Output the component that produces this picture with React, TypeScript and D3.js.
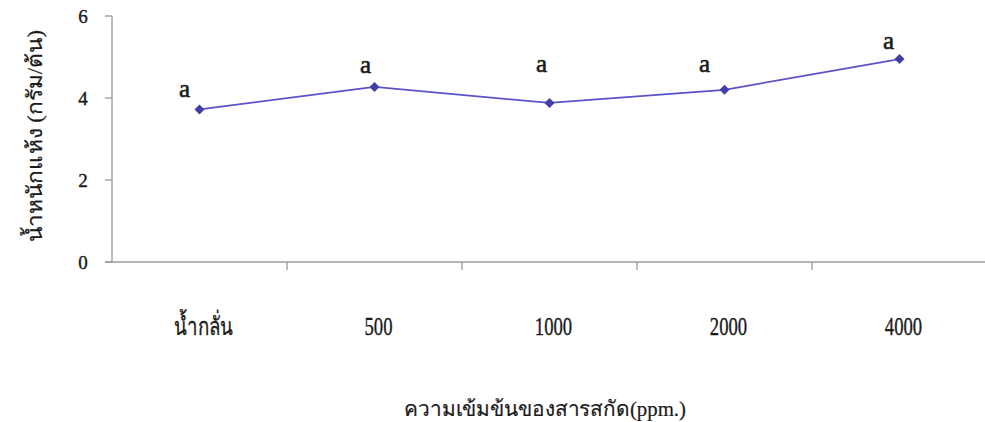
import React from "react";
import * as d3 from "d3";

const categories = ["น้ำกลั่น", "500", "1000", "2000", "4000"];
const values = [3.72, 4.27, 3.88, 4.2, 4.95];
const letters = ["a", "a", "a", "a", "a"];
const letterY = [4.02, 4.61, 4.63, 4.63, 5.19];
const letterDx = [-15, -9, -8, -20, -11];
const yTicks = [0, 2, 4, 6];

const W = 985;
const H = 422;
const serif = "'Liberation Serif', 'Times New Roman', serif";

export default function App() {
  const x = d3.scaleBand<string>().domain(categories).range([112, 987]);
  const y = d3.scaleLinear().domain([0, 6]).range([262, 16]);
  const cx = (c: string) => (x(c) as number) + x.bandwidth() / 2;
  const line = d3
    .line<number>()
    .x((_, i) => cx(categories[i]))
    .y((d) => y(d));
  const square = d3.symbol().type(d3.symbolSquare).size(50)() as string;
  const axisColor = "#9a9a9a";
  const ink = "#1a1a1a";
  return (
    <svg
      width={W}
      height={H}
      style={{ position: "absolute", left: 0, top: 0, background: "#fff" }}
    >
      {/* y axis */}
      <line x1={112} x2={112} y1={y(6)} y2={y(0)} stroke={axisColor} strokeWidth={1.3} />
      {yTicks.map((t) => (
        <g key={t}>
          <line x1={105} x2={112} y1={y(t)} y2={y(t)} stroke={axisColor} strokeWidth={1.3} />
          <text
            x={83}
            y={y(t)}
            dy="0.35em"
            textAnchor="middle"
            fontFamily={serif}
            fontSize={19}
            fill={ink}
            stroke={ink}
            strokeWidth={0.4}
          >
            {t}
          </text>
        </g>
      ))}
      {/* x axis */}
      <line x1={105} x2={987} y1={y(0)} y2={y(0)} stroke={axisColor} strokeWidth={1.3} />
      {categories.map((c) => (
        <line
          key={"t" + c}
          x1={(x(c) as number) + x.bandwidth()}
          x2={(x(c) as number) + x.bandwidth()}
          y1={y(0)}
          y2={y(0) + 8}
          stroke={axisColor}
          strokeWidth={1.3}
        />
      ))}
      {categories.map((c) => (
        <text
          key={"l" + c}
          x={0}
          y={0}
          textAnchor="middle"
          fontFamily={serif}
          fontSize={22}
          fill={ink}
          stroke={ink}
          strokeWidth={0.3}
          transform={`translate(${cx(c) + 4},335) scale(0.85,1.12)`}
        >
          {c}
        </text>
      ))}
      {/* line */}
      <path d={line(values) as string} fill="none" stroke="#5b52c9" strokeWidth={1.8} />
      {values.map((v, i) => (
        <path
          key={"m" + i}
          d={square}
          transform={`translate(${cx(categories[i])},${y(v)}) rotate(45)`}
          fill="#4340a3"
        />
      ))}
      {letters.map((l, i) => (
        <text
          key={"a" + i}
          x={cx(categories[i]) + letterDx[i]}
          y={y(letterY[i])}
          textAnchor="middle"
          fontFamily={serif}
          fontSize={25}
          fill={ink}
          stroke={ink}
          strokeWidth={0.6}
        >
          {l}
        </text>
      ))}
      {/* axis titles */}
      <text
        x={545}
        y={416}
        textAnchor="middle"
        fontFamily={serif}
        fontSize={21}
        fill={ink}
        stroke={ink}
        strokeWidth={0.2}
        textLength={282}
        lengthAdjust="spacingAndGlyphs"
      >
        ความเข้มข้นของสารสกัด(ppm.)
      </text>
      <text
        transform="translate(42,136) rotate(-90)"
        textAnchor="middle"
        fontFamily={serif}
        fontSize={21}
        fill={ink}
        stroke={ink}
        strokeWidth={0.2}
        textLength={212}
        lengthAdjust="spacingAndGlyphs"
      >
        น้ำหนักแห้ง (กรัม/ต้น)
      </text>
    </svg>
  );
}
